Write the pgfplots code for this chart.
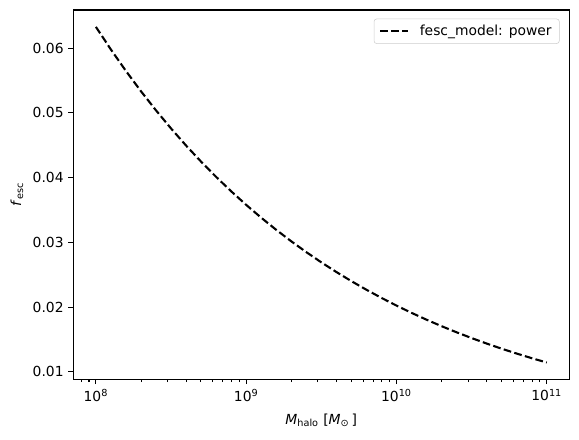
\documentclass[border=0pt]{standalone}
\usepackage{fontspec}
\setmainfont{DejaVu Sans}
\usepackage{pgfplots}
\pgfplotsset{compat=1.18}

\begin{document}
\fontsize{10.4}{12.5}\selectfont
\begin{tikzpicture}
\begin{axis}[
  name=ax,
  scale only axis,
  width=372pt, height=277pt,
  xmode=log,
  xmin=7.0795e7, xmax=1.4125e11,
  ymin=0.00886, ymax=0.0659,
  xtick={1e8,1e9,1e10,1e11},
  xticklabels={10\textsuperscript{8},10\textsuperscript{9},10\textsuperscript{10},10\textsuperscript{11}},
  minor xtick={8e7,9e7,2e8,3e8,4e8,5e8,6e8,7e8,8e8,9e8,2e9,3e9,4e9,5e9,6e9,7e9,8e9,9e9,2e10,3e10,4e10,5e10,6e10,7e10,8e10,9e10},
  ytick={0.01,0.02,0.03,0.04,0.05,0.06},
  yticklabels={0.01,0.02,0.03,0.04,0.05,0.06},
  tick align=outside,
  major tick length=3.65pt,
  minor tick length=2.08pt,
  every tick/.style={black, line width=0.83pt},
  axis line style={line width=0.83pt},
  xtick pos=bottom, ytick pos=left,
  ticklabel style={font=\fontsize{10.4}{12.5}\selectfont},
  xlabel={\textit{M}\textsubscript{halo} [\textit{M}\textsubscript{⊙}\,]},
  ylabel={\textit{f}\textsubscript{esc}},
  label style={font=\fontsize{10.4}{12.5}\selectfont},
  xlabel style={yshift=-2pt},
  legend style={at={(rel axis cs:1,1)}, anchor=north east, xshift=-7.3pt, yshift=-6.5pt,
    draw=black!20, rounded corners=2pt, fill=white, fill opacity=0.8, text opacity=1,
    inner xsep=3.75pt, inner ysep=2.5pt, nodes={inner xsep=0pt},
    font=\fontsize{10.4}{12.5}\selectfont},
  legend cell align=left,
  legend image code/.code={\draw[#1] (0pt,0pt) -- (20.8pt,0pt);},
]
% escape fraction of the power-law model, sampled every 0.1 dex in halo mass
\addplot[black, line width=1.56pt, dash pattern=on 5.8pt off 2.5pt] coordinates {
 (1e8,0.063300) (1.2589e8,0.059793) (1.5849e8,0.056481) (1.9953e8,0.053352)
 (2.5119e8,0.050397) (3.1623e8,0.047605) (3.9811e8,0.044968) (5.0119e8,0.042477)
 (6.3096e8,0.040124) (7.9433e8,0.037902) (1e9,0.035802) (1.2589e9,0.033819)
 (1.5849e9,0.031946) (1.9953e9,0.030176) (2.5119e9,0.028504) (3.1623e9,0.026925)
 (3.9811e9,0.025433) (5.0119e9,0.024024) (6.3096e9,0.022693) (7.9433e9,0.021436)
 (1e10,0.020249) (1.2589e10,0.019127) (1.5849e10,0.018067) (1.9953e10,0.017066)
 (2.5119e10,0.016121) (3.1623e10,0.015228) (3.9811e10,0.014384) (5.0119e10,0.013587)
 (6.3096e10,0.012835) (7.9433e10,0.012124) (1e11,0.011452)
};
\addlegendentry{\hspace*{8.25pt}fesc\_model: power\hspace*{2pt}}
\coordinate (bl) at (rel axis cs:0,0);
\coordinate (tr) at (rel axis cs:1,1);
\end{axis}
\pgfresetboundingbox
\path ([shift={(-55pt,-45.5pt)}]bl) rectangle ([shift={(7.3pt,7.5pt)}]tr);
\end{tikzpicture}
\end{document}
